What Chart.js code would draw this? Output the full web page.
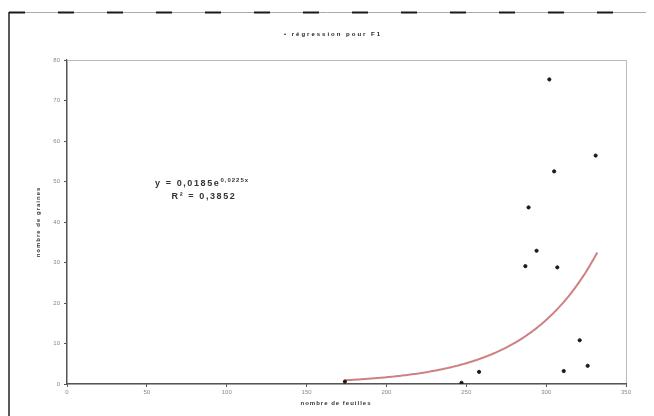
<!DOCTYPE html>
<html>
<head>
<meta charset="utf-8">
<script src="https://cdn.jsdelivr.net/npm/chart.js@4.4.1/dist/chart.umd.min.js"></script>
<style>
  html, body { margin: 0; padding: 0; background: #fff; }
  #wrap { width: 654px; height: 416px; position: relative; }
  canvas { display: block; }
</style>
</head>
<body>
<div id="wrap"><canvas id="c" width="654" height="416"></canvas></div>
<script>
// Observations: nombre de feuilles (x) and measured value (y)
const leafCounts = [174, 247, 258, 287, 289, 294, 302, 305, 307, 311, 321, 326, 331];
const measured   = [0.6, 0.3, 3.0, 29.1, 43.6, 32.9, 75.2, 52.5, 28.8, 3.2, 10.8, 4.5, 56.4];

// Exponential trendline y = a * e^(b x)
const trendA = 0.0185;
const trendB = 0.0225;
const trendR2 = "0,3852";
const trendFrom = 174;
const trendTo = 332;

const xTicks = [0, 50, 100, 150, 200, 250, 300, 350];
const yTicks = [0, 10, 20, 30, 40, 50, 60, 70, 80];

const chartTitle = "• régression pour F1";
const xTitle = "nombre de feuilles";
const yTitle = "nombre de graines";

const points = leafCounts.map((x, i) => ({ x: x, y: measured[i] }));
const trend = [];
for (let x = trendFrom; x <= trendTo; x += 1) {
  trend.push({ x: x, y: trendA * Math.exp(trendB * x) });
}

const tickFont = { family: "Liberation Sans", size: 6 };

// Frame, plot box, title and the trendline equation
const decor = {
  id: "decor",
  beforeDraw(chart) {
    const ctx = chart.ctx;
    const a = chart.chartArea;
    ctx.save();
    // outer frame: solid left edge, broken top edge
    ctx.strokeStyle = "#222";
    ctx.lineWidth = 1.5;
    ctx.beginPath();
    ctx.moveTo(9, 12); ctx.lineTo(9, 416);
    ctx.stroke();
    ctx.strokeStyle = "#aaa";
    ctx.lineWidth = 1;
    ctx.beginPath();
    ctx.moveTo(9, 12.5); ctx.lineTo(646, 12.5);
    ctx.stroke();
    ctx.strokeStyle = "#1a1a1a";
    ctx.lineWidth = 2;
    ctx.setLineDash([16, 33]);
    ctx.beginPath();
    ctx.moveTo(9, 12.5); ctx.lineTo(646, 12.5);
    ctx.stroke();
    ctx.setLineDash([]);
    // plot area box
    ctx.strokeStyle = "#bbb";
    ctx.lineWidth = 1;
    ctx.strokeRect(a.left + 0.5, a.top + 0.5, a.right - a.left, a.bottom - a.top);
    ctx.restore();
  },
  afterDraw(chart) {
    const ctx = chart.ctx;
    ctx.save();
    ctx.fillStyle = "#222";
    ctx.textBaseline = "middle";
    ctx.textAlign = "center";
    ctx.letterSpacing = "2px";
    ctx.font = "bold 6px 'Liberation Sans'";
    ctx.fillText(chartTitle, 333, 34);

    // axis titles
    ctx.letterSpacing = "1px";
    ctx.fillStyle = "#333";
    ctx.fillText(xTitle, 336, 403);
    ctx.save();
    ctx.translate(38, 222);
    ctx.rotate(-Math.PI / 2);
    ctx.fillText(yTitle, 0, 0);
    ctx.restore();

    // equation
    ctx.fillStyle = "#333";
    ctx.textAlign = "left";
    ctx.letterSpacing = "1.6px";
    ctx.font = "bold 9px 'Liberation Sans'";
    const base = "y = 0,0185e";
    const bx = 155;
    ctx.fillText(base, bx, 184);
    const w = ctx.measureText(base).width;
    ctx.font = "bold 6px 'Liberation Sans'";
    ctx.letterSpacing = "1px";
    ctx.fillText("0,0225x", bx + w, 180);
    ctx.font = "bold 9px 'Liberation Sans'";
    ctx.letterSpacing = "1.6px";
    ctx.textAlign = "center";
    ctx.fillText("R² = " + trendR2, 204, 197);
    ctx.restore();
  }
};

new Chart(document.getElementById("c"), {
  type: "scatter",
  data: {
    datasets: [
      {
        label: "F1",
        data: points,
        backgroundColor: "#1a1a1a",
        borderColor: "#1a1a1a",
        pointRadius: 1.6,
        pointHoverRadius: 1.6,
        order: 1
      },
      {
        label: "Exponentielle",
        type: "line",
        data: trend,
        borderColor: "#cf8080",
        borderWidth: 2,
        pointRadius: 0,
        fill: false,
        tension: 0,
        order: 2
      }
    ]
  },
  options: {
    responsive: false,
    animation: false,
    layout: { padding: { top: 60, right: 28, left: 0, bottom: 0 } },
    plugins: {
      legend: { display: false },
      title: { display: false },
      tooltip: { enabled: false }
    },
    scales: {
      x: {
        type: "linear",
        min: 0, max: 350,
        afterFit(s) { s.height = 32; },
        afterBuildTicks(s) { s.ticks = xTicks.map(v => ({ value: v })); },
        ticks: { font: tickFont, color: "#888", padding: 2 },
        grid: { drawOnChartArea: false, tickLength: 3, color: "#555" },
        border: { color: "#555", width: 1.2 }
      },
      y: {
        type: "linear",
        min: 0, max: 80,
        afterFit(s) { s.width = 67; },
        afterBuildTicks(s) { s.ticks = yTicks.map(v => ({ value: v })); },
        ticks: { font: tickFont, color: "#888", padding: 4 },
        grid: { drawOnChartArea: false, tickLength: 3, color: "#555" },
        border: { color: "#555", width: 1.2 }
      }
    }
  },
  plugins: [decor]
});
</script>
</body>
</html>
